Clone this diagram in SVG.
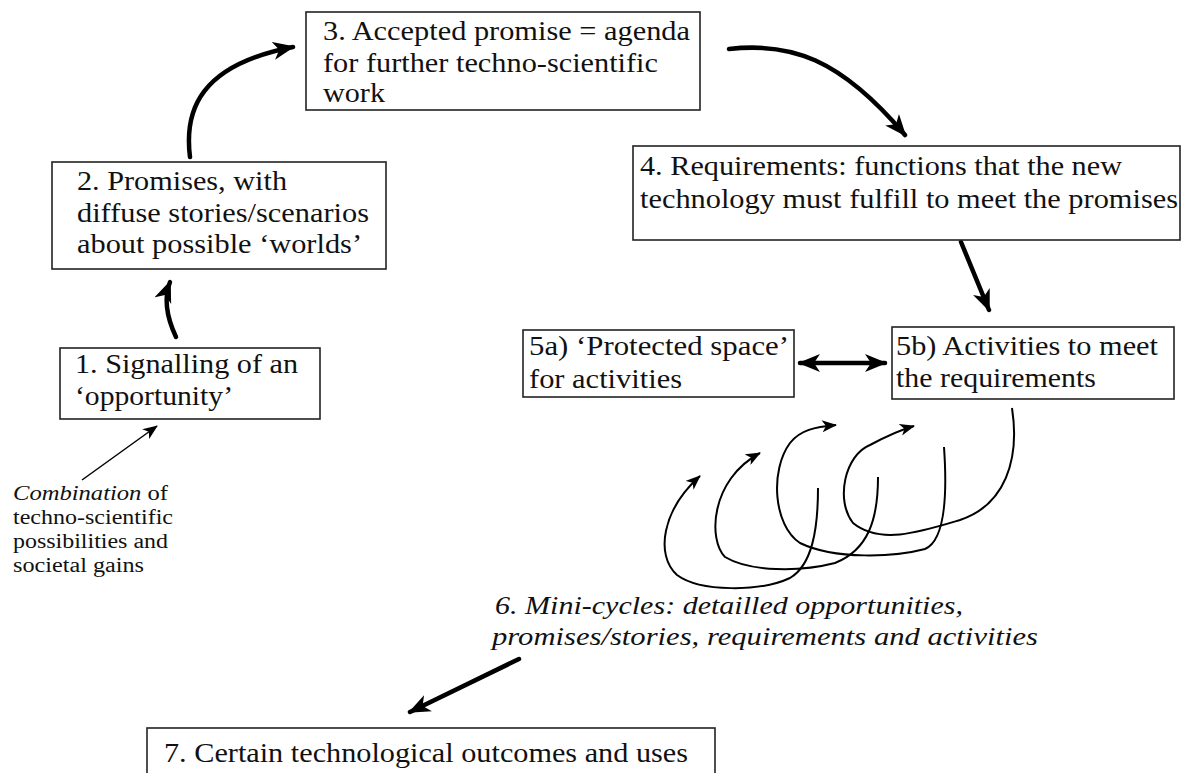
<svg xmlns="http://www.w3.org/2000/svg" width="1187" height="773" viewBox="0 0 1187 773">
<style>
.box{fill:#fff;stroke:#222;stroke-width:1.6}
.t{font-family:"Liberation Serif","Times New Roman",serif;font-size:27px;fill:#111}
.ti{font-family:"Liberation Serif","Times New Roman",serif;font-size:26px;font-style:italic;fill:#111}
.ts{font-family:"Liberation Serif","Times New Roman",serif;font-size:20px;fill:#111}
.thick{fill:none;stroke:#000;stroke-width:4.5;stroke-linecap:round}
.thin{fill:none;stroke:#000;stroke-width:2}
.hair{fill:none;stroke:#000;stroke-width:1.5}
</style>
<defs>
<marker id="ah" markerUnits="userSpaceOnUse" markerWidth="24" markerHeight="20" refX="20" refY="9" orient="auto-start-reverse" viewBox="0 0 24 20">
<path d="M0,0 L22,9 L0,18 L6,9 z" fill="#000"/>
</marker>
<marker id="as" markerUnits="userSpaceOnUse" markerWidth="16" markerHeight="12" refX="14" refY="6" orient="auto" viewBox="0 0 16 12">
<path d="M0,0 L15,6 L0,12 L4,6 z" fill="#000"/>
</marker>
</defs>
<rect width="1187" height="773" fill="#fff"/>
<g id="connectors">
<path class="thick" d="M176,337 C168,320 163,300 170,282" marker-end="url(#ah)"/>
<path class="thick" d="M190,157 C184,110 200,65 293,47" marker-end="url(#ah)"/>
<path class="thick" d="M729,49 C790,42 840,58 905,135" marker-end="url(#ah)"/>
<path class="thick" d="M961,242 L989,310" marker-end="url(#ah)"/>
<path class="thick" d="M800,363 L885,363" marker-start="url(#ah)" marker-end="url(#ah)"/>
<path class="hair" d="M82,480 L157,426" marker-end="url(#as)"/>
<path class="thick" d="M519,659 L410,712" marker-end="url(#ah)"/>
<path class="thin" d="M818,488 C818,530 812,565 790,578 C760,592 700,592 677,575 C655,555 662,510 700,476" marker-end="url(#as)"/>
<path class="thin" d="M878,477 C878,520 868,550 835,563 C800,572 750,572 725,557 C708,540 710,480 760,453" marker-end="url(#as)"/>
<path class="thin" d="M944,447 C947,490 946,540 925,549 C895,557 835,560 800,543 C773,525 770,470 790,443 C800,430 815,427 836,425" marker-end="url(#as)"/>
<path class="thin" d="M1012,408 C1020,460 1005,505 960,520 C920,532 880,545 853,523 C835,500 845,455 870,445 C885,437 900,430 914,426" marker-end="url(#as)"/>
</g>
<g id="n3">
<rect class="box" x="306" y="12" width="394" height="98"/>
<text class="t" x="323" y="40" textLength="367" lengthAdjust="spacingAndGlyphs">3. Accepted promise = agenda</text>
<text class="t" x="323" y="72" textLength="335" lengthAdjust="spacingAndGlyphs">for further techno-scientific</text>
<text class="t" x="323" y="102" textLength="62" lengthAdjust="spacingAndGlyphs">work</text>
</g>
<g id="n2">
<rect class="box" x="52" y="162" width="334" height="107"/>
<text class="t" x="77" y="190" textLength="210" lengthAdjust="spacingAndGlyphs">2. Promises, with</text>
<text class="t" x="77" y="222" textLength="292" lengthAdjust="spacingAndGlyphs">diffuse stories/scenarios</text>
<text class="t" x="77" y="253" textLength="285" lengthAdjust="spacingAndGlyphs">about possible ‘worlds’</text>
</g>
<g id="n1">
<rect class="box" x="60" y="348" width="260" height="71"/>
<text class="t" x="75" y="373" textLength="223" lengthAdjust="spacingAndGlyphs">1. Signalling of an</text>
<text class="t" x="75" y="405" textLength="158" lengthAdjust="spacingAndGlyphs">‘opportunity’</text>
</g>
<g id="n4">
<rect class="box" x="633" y="146" width="547" height="94"/>
<text class="t" x="640" y="175" textLength="482" lengthAdjust="spacingAndGlyphs">4. Requirements: functions that the new</text>
<text class="t" x="640" y="208" textLength="538" lengthAdjust="spacingAndGlyphs">technology must fulfill to meet the promises</text>
</g>
<g id="n5a">
<rect class="box" x="523" y="330" width="271" height="67"/>
<text class="t" x="529" y="355" textLength="260" lengthAdjust="spacingAndGlyphs">5a) ‘Protected space’</text>
<text class="t" x="529" y="388" textLength="153" lengthAdjust="spacingAndGlyphs">for activities</text>
</g>
<g id="n5b">
<rect class="box" x="892" y="327" width="282" height="72"/>
<text class="t" x="896" y="355" textLength="262" lengthAdjust="spacingAndGlyphs">5b) Activities to meet</text>
<text class="t" x="896" y="387" textLength="200" lengthAdjust="spacingAndGlyphs">the requirements</text>
</g>
<g id="combination">
<text class="ts" x="13" y="500" textLength="155" lengthAdjust="spacingAndGlyphs"><tspan font-style="italic">Combination</tspan> of</text>
<text class="ts" x="13" y="524" textLength="160" lengthAdjust="spacingAndGlyphs">techno-scientific</text>
<text class="ts" x="13" y="548" textLength="155" lengthAdjust="spacingAndGlyphs">possibilities and</text>
<text class="ts" x="13" y="572" textLength="131" lengthAdjust="spacingAndGlyphs">societal gains</text>
</g>
<g id="n6">
<text class="ti" x="495" y="614" textLength="468" lengthAdjust="spacingAndGlyphs">6. Mini-cycles: detailled opportunities,</text>
<text class="ti" x="492" y="645" textLength="546" lengthAdjust="spacingAndGlyphs">promises/stories, requirements and activities</text>
</g>
<g id="n7">
<rect class="box" x="147" y="728" width="568" height="60"/>
<text class="t" x="164" y="762" textLength="524" lengthAdjust="spacingAndGlyphs">7. Certain technological outcomes and uses</text>
</g>
</svg>
